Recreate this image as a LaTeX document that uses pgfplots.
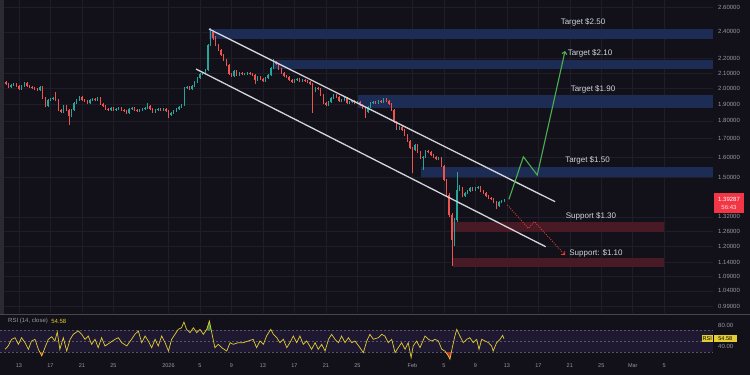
\documentclass[border=0pt]{standalone}
\usepackage{pgfplots}
\pgfplotsset{compat=1.18}
\usepackage{pgfplotstable}
\usetikzlibrary{arrows.meta}
\usepackage{fontspec}
\setmainfont{Liberation Sans}
\definecolor{bg}{RGB}{18,17,26}
\definecolor{gridc}{RGB}{30,29,40}
\definecolor{upc}{RGB}{38,166,154}
\definecolor{dnc}{RGB}{239,83,80}
\definecolor{zoneblue}{RGB}{29,44,84}
\definecolor{zonered}{RGB}{72,26,38}
\definecolor{chan}{RGB}{212,212,220}
\definecolor{greenl}{RGB}{76,175,80}
\definecolor{redl}{RGB}{229,57,53}
\definecolor{txt}{RGB}{209,212,220}
\definecolor{axtxt}{RGB}{150,152,161}
\definecolor{rsiy}{RGB}{228,204,52}
\definecolor{band}{RGB}{30,24,48}
\definecolor{bandline}{RGB}{88,84,110}
\definecolor{pricebox}{RGB}{242,54,69}
\definecolor{sepc}{RGB}{70,70,80}
\definecolor{leftc}{RGB}{42,42,48}

\pgfplotstableread{
n o h l c
0 2.030 2.048 2.024 2.041
1 2.041 2.047 2.020 2.028
2 2.028 2.034 2.001 2.008
3 2.008 2.027 2.003 2.021
4 2.021 2.036 2.015 2.028
5 2.028 2.033 2.009 2.015
6 2.015 2.020 1.988 1.995
7 1.995 2.021 1.990 2.015
8 2.015 2.041 2.010 2.034
9 2.034 2.040 2.009 2.015
10 2.015 2.022 2.002 2.008
11 2.008 2.015 1.996 2.002
12 2.002 2.008 1.989 1.995
13 1.995 2.001 1.982 1.989
14 1.989 2.016 1.984 2.008
15 2.008 2.012 1.930 1.938
16 1.938 1.944 1.880 1.888
17 1.888 1.932 1.882 1.925
18 1.925 1.940 1.918 1.932
19 1.932 1.946 1.926 1.938
20 1.938 1.976 1.918 1.925
21 1.925 1.930 1.857 1.864
22 1.864 1.870 1.845 1.852
23 1.852 1.895 1.846 1.888
24 1.888 1.894 1.858 1.864
25 1.864 1.870 1.776 1.829
26 1.829 1.870 1.822 1.864
27 1.864 1.913 1.858 1.907
28 1.907 1.931 1.901 1.925
29 1.925 1.951 1.919 1.944
30 1.944 1.950 1.919 1.925
31 1.925 1.931 1.912 1.919
32 1.919 1.925 1.900 1.907
33 1.907 1.931 1.901 1.925
34 1.925 1.939 1.919 1.932
35 1.932 1.938 1.918 1.925
36 1.925 1.945 1.920 1.938
37 1.938 1.944 1.895 1.901
38 1.901 1.907 1.882 1.888
39 1.888 1.894 1.864 1.870
40 1.870 1.876 1.858 1.864
41 1.864 1.883 1.859 1.876
42 1.876 1.881 1.858 1.864
43 1.864 1.877 1.859 1.870
44 1.870 1.882 1.865 1.876
45 1.876 1.881 1.858 1.864
46 1.864 1.870 1.852 1.858
47 1.858 1.863 1.840 1.847
48 1.847 1.876 1.842 1.870
49 1.870 1.883 1.865 1.876
50 1.876 1.881 1.858 1.864
51 1.864 1.870 1.852 1.858
52 1.858 1.870 1.853 1.864
53 1.864 1.877 1.859 1.870
54 1.870 1.883 1.865 1.876
55 1.876 1.907 1.871 1.888
56 1.888 1.893 1.864 1.870
57 1.870 1.876 1.846 1.852
58 1.852 1.870 1.847 1.864
59 1.864 1.877 1.859 1.870
60 1.870 1.876 1.858 1.864
61 1.864 1.877 1.859 1.870
62 1.870 1.875 1.852 1.858
63 1.858 1.863 1.817 1.835
64 1.835 1.853 1.830 1.847
65 1.847 1.864 1.842 1.858
66 1.858 1.876 1.853 1.870
67 1.870 1.888 1.865 1.882
68 1.882 1.901 1.877 1.895
69 1.895 2.010 1.890 2.002
70 2.002 2.016 1.995 2.008
71 2.008 2.014 1.988 1.995
72 1.995 2.022 1.990 2.015
73 2.015 2.048 2.010 2.041
74 2.041 2.074 2.036 2.067
75 2.067 2.101 2.062 2.094
76 2.094 2.110 2.088 2.101
77 2.101 2.128 2.095 2.121
78 2.121 2.310 2.115 2.299
79 2.299 2.429 2.290 2.398
80 2.398 2.415 2.340 2.352
81 2.352 2.370 2.290 2.299
82 2.299 2.310 2.255 2.263
83 2.263 2.272 2.219 2.227
84 2.227 2.236 2.183 2.191
85 2.191 2.200 2.148 2.156
86 2.156 2.163 2.086 2.094
87 2.094 2.100 2.073 2.081
88 2.081 2.122 2.075 2.114
89 2.114 2.120 2.080 2.087
90 2.087 2.108 2.081 2.101
91 2.101 2.107 2.087 2.094
92 2.094 2.101 2.087 2.094
93 2.094 2.108 2.088 2.101
94 2.101 2.107 2.087 2.094
95 2.094 2.100 2.080 2.087
96 2.087 2.093 2.028 2.054
97 2.054 2.081 2.048 2.074
98 2.074 2.080 2.055 2.061
99 2.061 2.067 2.040 2.047
100 2.047 2.074 2.041 2.067
101 2.067 2.094 2.061 2.087
102 2.087 2.143 2.081 2.135
103 2.135 2.198 2.128 2.177
104 2.177 2.185 2.156 2.163
105 2.163 2.170 2.121 2.128
106 2.128 2.135 2.094 2.101
107 2.101 2.108 2.074 2.081
108 2.081 2.088 2.067 2.074
109 2.074 2.080 2.047 2.054
110 2.054 2.060 2.034 2.041
111 2.041 2.061 2.035 2.054
112 2.054 2.068 2.048 2.061
113 2.061 2.067 2.040 2.047
114 2.047 2.061 2.041 2.054
115 2.054 2.060 2.040 2.047
116 2.047 2.053 2.034 2.041
117 2.041 2.047 2.021 2.028
118 2.028 2.034 1.847 1.982
119 1.982 2.010 1.976 2.002
120 2.002 2.008 1.988 1.995
121 1.995 2.001 1.950 1.957
122 1.957 1.963 1.900 1.907
123 1.907 1.913 1.888 1.895
124 1.895 1.920 1.889 1.913
125 1.913 1.945 1.907 1.938
126 1.938 1.964 1.932 1.957
127 1.957 1.963 1.938 1.944
128 1.944 1.950 1.912 1.919
129 1.919 1.932 1.913 1.925
130 1.925 1.945 1.919 1.938
131 1.938 1.944 1.900 1.907
132 1.907 1.920 1.901 1.913
133 1.913 1.926 1.907 1.919
134 1.919 1.925 1.900 1.907
135 1.907 1.920 1.901 1.913
136 1.913 1.919 1.888 1.895
137 1.895 1.901 1.869 1.876
138 1.876 1.882 1.817 1.852
139 1.852 1.889 1.846 1.882
140 1.882 1.914 1.876 1.907
141 1.907 1.920 1.901 1.913
142 1.913 1.919 1.900 1.907
143 1.907 1.926 1.901 1.919
144 1.919 1.925 1.906 1.913
145 1.913 1.939 1.907 1.932
146 1.932 1.938 1.912 1.919
147 1.919 1.925 1.894 1.901
148 1.901 1.907 1.857 1.864
149 1.864 1.870 1.786 1.793
150 1.793 1.799 1.747 1.754
151 1.754 1.772 1.748 1.765
152 1.765 1.771 1.741 1.748
153 1.748 1.754 1.712 1.719
154 1.719 1.725 1.680 1.687
155 1.687 1.693 1.642 1.649
156 1.649 1.655 1.521 1.638
157 1.638 1.672 1.632 1.665
158 1.665 1.671 1.620 1.627
159 1.627 1.633 1.590 1.597
160 1.597 1.609 1.536 1.602
161 1.602 1.640 1.596 1.633
162 1.633 1.639 1.620 1.627
163 1.627 1.633 1.605 1.612
164 1.612 1.618 1.595 1.602
165 1.602 1.608 1.584 1.591
166 1.591 1.604 1.585 1.597
167 1.597 1.603 1.549 1.556
168 1.556 1.562 1.480 1.487
169 1.487 1.493 1.410 1.418
170 1.418 1.424 1.320 1.328
171 1.328 1.335 1.127 1.225
172 1.225 1.315 1.200 1.307
173 1.307 1.526 1.300 1.440
174 1.440 1.462 1.434 1.449
175 1.449 1.455 1.406 1.413
176 1.413 1.432 1.407 1.426
177 1.426 1.441 1.420 1.435
178 1.435 1.455 1.430 1.449
179 1.449 1.454 1.434 1.440
180 1.440 1.455 1.435 1.449
181 1.449 1.460 1.443 1.454
182 1.454 1.459 1.429 1.435
183 1.435 1.440 1.420 1.426
184 1.426 1.431 1.407 1.413
185 1.413 1.418 1.397 1.403
186 1.403 1.408 1.392 1.398
187 1.398 1.403 1.379 1.385
188 1.385 1.390 1.354 1.367
189 1.367 1.390 1.362 1.385
190 1.385 1.395 1.380 1.389
191 1.389 1.398 1.384 1.393
}\candles

\pgfplotstableread{
n v
0.7 35.2
1.9 41.3
3.2 53.6
4.5 56.6
5.8 44.4
7.0 56.6
8.3 47.4
9.6 35.2
10.8 50.5
12.1 53.6
13.4 35.2
14.7 22.9
15.9 38.2
17.2 53.6
18.5 58.4
19.7 50.5
20.6 67.0
21.6 35.2
22.9 56.6
24.2 32.0
25.5 53.6
26.7 62.8
28.6 69.0
29.9 62.8
31.2 53.6
32.4 59.7
33.7 44.4
35.0 53.6
36.2 38.2
37.5 56.6
38.8 41.3
40.7 47.4
42.6 53.6
43.9 56.6
45.2 47.4
47.1 41.3
48.9 53.6
50.2 62.8
51.5 69.0
52.8 47.4
54.1 59.7
55.3 50.5
56.6 38.2
57.9 53.6
59.1 41.3
60.4 59.7
61.7 47.4
63.0 32.0
64.2 53.6
65.5 62.8
66.7 72.0
68.0 75.0
68.9 85.5
69.9 72.0
71.2 65.8
72.5 75.0
73.8 65.8
75.0 72.0
76.3 62.8
77.6 72.0
78.6 87.4
79.5 65.8
80.7 38.2
82.0 44.4
83.3 38.2
85.2 32.0
86.5 47.4
87.7 44.4
89.6 47.4
91.5 47.4
93.4 50.5
95.3 53.6
96.6 38.2
97.9 50.5
99.2 44.4
100.4 59.7
102.0 72.0
103.0 62.8
104.3 56.6
105.5 47.4
106.8 53.6
108.1 38.2
109.3 47.4
110.6 59.7
111.9 47.4
113.1 59.7
114.4 44.4
115.7 50.5
117.6 35.2
118.9 47.4
120.1 35.2
121.4 44.4
122.7 32.0
124.0 53.6
125.2 62.8
126.5 53.6
127.8 47.4
129.0 59.7
130.3 47.4
131.6 56.6
132.9 47.4
134.1 50.5
136.0 38.2
137.3 29.0
138.6 50.5
139.8 62.8
141.1 53.6
143.0 56.6
144.3 62.8
145.5 59.7
146.8 47.4
148.1 53.6
149.4 29.0
150.6 38.2
151.9 47.4
153.2 35.2
154.4 47.4
155.5 19.8
156.3 41.3
157.6 50.5
158.9 38.2
160.8 59.7
162.1 53.6
163.4 50.5
164.6 53.6
165.9 50.5
167.2 35.2
168.4 32.0
169.7 22.9
170.3 16.8
171.2 38.2
172.2 59.7
172.9 72.0
174.1 59.7
175.4 47.4
176.7 53.6
177.9 56.6
179.2 47.4
180.5 53.6
181.4 35.2
182.4 53.6
183.7 50.5
185.0 47.4
186.2 41.3
186.8 32.0
188.1 47.4
189.4 53.6
190.4 61.0
190.9 54.58
}\rsi

\pgfplotsset{
  candle/.style 2 args={only marks, mark=*, mark size=0pt, mark options={draw=none, fill=none},
    color=#1,
    error bars/y dir=plus, error bars/y explicit, error bars/error mark=none,
    error bars/error bar style={line width=#2, draw=#1, solid}},
}

\begin{document}
\begin{tikzpicture}
\useasboundingbox (0pt,0pt) rectangle (750pt,375pt);
\fill[bg] (0pt,0pt) rectangle (750pt,375pt);

% ---------------- main price panel ----------------
\begin{axis}[
  at={(0pt,62pt)}, anchor=south west, scale only axis,
  width=713pt, height=313pt,
  xmin=-1.23, xmax=270.6,
  ymode=log, ymin=0.9679, ymax=2.6593,
  axis line style={draw=none},
  /pgf/number format/assume math mode=true,
  ytick={0.99,1.04,1.09,1.14,1.20,1.26,1.32,1.50,1.60,1.70,1.80,1.90,2.00,2.10,2.20,2.40,2.60},
  yticklabels={0.99000,1.04000,1.09000,1.14000,1.20000,1.26000,1.32000,1.50000,1.60000,1.70000,1.80000,1.90000,2.00000,2.10000,2.20000,2.40000,2.60000},
  yticklabel pos=right,
  yticklabel style={font=\fontsize{6}{7}\selectfont, text=axtxt, anchor=west, inner sep=0pt, xshift=5pt},
  xtick={6,18,30,42,63,75,87,99,111,123,135,156,168,180,192,204,216,228,240,252},
  xticklabels={},
  major tick length=0pt,
  grid=major, major grid style={gridc, line width=0.5pt},
]
% zones
\addplot[fill=zoneblue, draw=none] coordinates {(78.3,2.342) (270.6,2.342) (270.6,2.419) (78.3,2.419)} -- cycle;
\addplot[fill=zoneblue, draw=none] coordinates {(103.2,2.126) (270.6,2.126) (270.6,2.191) (103.2,2.191)} -- cycle;
\addplot[fill=zoneblue, draw=none] coordinates {(135.1,1.879) (270.6,1.879) (270.6,1.957) (135.1,1.957)} -- cycle;
\addplot[fill=zoneblue, draw=none] coordinates {(159.3,1.503) (270.6,1.503) (270.6,1.552) (159.3,1.552)} -- cycle;
\addplot[fill=zonered, draw=none] coordinates {(171.5,1.256) (251.9,1.256) (251.9,1.300) (171.5,1.300)} -- cycle;
\addplot[fill=zonered, draw=none] coordinates {(171.5,1.122) (251.9,1.122) (251.9,1.156) (171.5,1.156)} -- cycle;

% candles: wicks
\addplot[candle={upc}{0.5pt}, restrict expr to domain={\thisrow{c}-\thisrow{o}}{0:100}]
  table[x=n, y=l, y error plus expr=\thisrow{h}-\thisrow{l}] {\candles};
\addplot[candle={dnc}{0.5pt}, restrict expr to domain={\thisrow{c}-\thisrow{o}}{-100:-0.00001}]
  table[x=n, y=l, y error plus expr=\thisrow{h}-\thisrow{l}] {\candles};
% candles: bodies
\addplot[candle={upc}{1.3pt}, restrict expr to domain={\thisrow{c}-\thisrow{o}}{0:100}]
  table[x=n, y=o, y error plus expr=\thisrow{c}-\thisrow{o}] {\candles};
\addplot[candle={dnc}{1.3pt}, restrict expr to domain={\thisrow{c}-\thisrow{o}}{-100:-0.00001}]
  table[x=n, y=c, y error plus expr=\thisrow{o}-\thisrow{c}] {\candles};

% channel lines
\addplot[chan, line width=1.3pt] coordinates {(78.45,2.4216) (210.4,1.3865)};
\addplot[chan, line width=1.3pt] coordinates {(73.5,2.128) (206.8,1.199)};

% projections
\addplot[greenl, line width=1.1pt, -{Straight Barb[length=2.5pt,width=5pt]}] coordinates {(192.8,1.397) (198.3,1.603) (203.6,1.511) (214.2,2.256)};
\addplot[redl, line width=0.9pt, dash pattern=on 1pt off 1.3pt, -{Straight Barb[length=2.5pt,width=5pt]}] coordinates {(192.2,1.372) (200.2,1.272) (202.5,1.300) (214.2,1.167)};
\end{axis}

% ---------------- RSI panel ----------------
\begin{axis}[
  at={(0pt,13pt)}, anchor=south west, scale only axis,
  width=713pt, height=46pt,
  xmin=-1.23, xmax=270.6, ymin=11.8, ymax=96.6,
  axis line style={draw=none},
  /pgf/number format/assume math mode=true,
  ytick={40,80}, yticklabels={40.00,80.00},
  yticklabel pos=right,
  yticklabel style={font=\fontsize{6}{7}\selectfont, text=axtxt, anchor=west, inner sep=0pt, xshift=5pt},
  xtick={6,18,30,42,63,75,87,99,111,123,135,156,168,180,192,204,216,228,240,252},
  xticklabels={13,17,21,25,2026,5,9,13,17,21,25,Feb,5,9,13,17,21,25,Mar,5},
  xticklabel style={font=\fontsize{5.5}{6.5}\selectfont, text=axtxt, inner sep=0pt, yshift=-1.5pt},
  major tick length=0pt,
]
\addplot[fill=band, draw=none] coordinates {(-1.23,30) (270.6,30) (270.6,70) (-1.23,70)} -- cycle;
\addplot[bandline, line width=0.5pt, dash pattern=on 2pt off 2pt] coordinates {(-1.23,70) (270.6,70)};
\addplot[bandline, line width=0.5pt, dash pattern=on 2pt off 2pt] coordinates {(-1.23,50) (270.6,50)};
\addplot[bandline, line width=0.5pt, dash pattern=on 2pt off 2pt] coordinates {(-1.23,30) (270.6,30)};
\addplot[fill=greenl!80!black, draw=none] coordinates {(77.3,70) (77.6,72) (78.6,87.4) (79.32,70)} -- cycle;
\addplot[fill=redl!85!black, draw=none] coordinates {(13.95,30) (14.7,22.9) (15.26,30)} -- cycle;
\addplot[fill=redl!85!black, draw=none] coordinates {(168.69,30) (169.7,22.9) (170.3,16.8) (170.86,30)} -- cycle;
\addplot[rsiy, line width=0.7pt] table[x=n, y=v] {\rsi};
\end{axis}

% separators / edges
\draw[sepc, line width=1.3pt] (0pt,60.5pt) -- (750pt,60.5pt);
\fill[leftc] (0pt,61.2pt) rectangle (3.5pt,375pt);

% annotation labels
\begin{scope}[every node/.style={text=txt, font=\fontsize{8}{9}\selectfont, inner sep=0pt}]
\node at (583pt,353pt) {Target \$2.50};
\node at (590pt,322pt) {Target \$2.10};
\node at (593pt,286pt) {Target \$1.90};
\node at (587.5pt,215pt) {Target \$1.50};
\node at (591pt,159pt) {Support \$1.30};
\node at (596pt,122pt) {Support: \$1.10};
\end{scope}

% price label box
\fill[pricebox] (714pt,162pt) rectangle (744pt,182pt);
\node[text=white, font=\fontsize{6}{7}\selectfont, inner sep=0pt] at (729pt,175.5pt) {1.39287};
\node[text=white!85!pricebox, font=\fontsize{6}{7}\selectfont, inner sep=0pt] at (729pt,167.5pt) {56:43};

% RSI labels
\node[anchor=west, text=axtxt, font=\fontsize{6}{7}\selectfont, inner sep=0pt] (rsil) at (8pt,54pt) {RSI (14, close)};
\node[anchor=west, text=rsiy, font=\fontsize{6}{7}\selectfont, inner sep=0pt] at ([xshift=3pt]rsil.east) {54.58};
\fill[rsiy] (702pt,32.5pt) rectangle (712.6pt,40pt);
\fill[rsiy] (713.6pt,32.5pt) rectangle (737pt,40pt);
\node[text=black, font=\fontsize{5.5}{6}\selectfont, inner sep=0pt] at (707.3pt,36.2pt) {RSI};
\node[text=black, font=\fontsize{5.5}{6}\selectfont, inner sep=0pt] at (725.3pt,36.2pt) {54.58};
\end{tikzpicture}
\end{document}
